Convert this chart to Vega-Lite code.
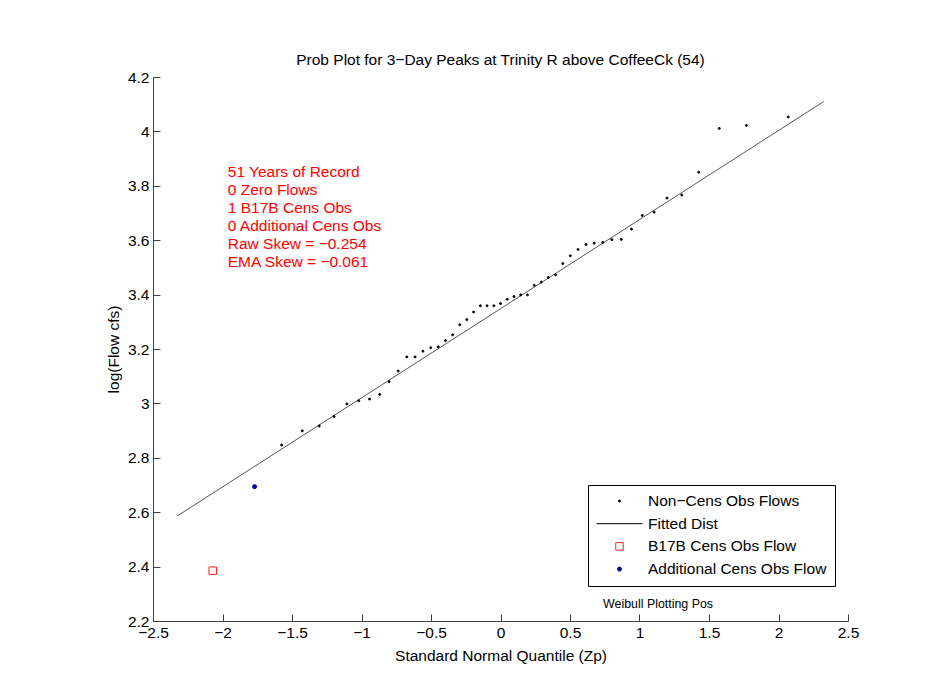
{
  "$schema": "https://vega.github.io/schema/vega-lite/v6.json",
  "width": 695,
  "height": 544,
  "autosize": {"type": "none"},
  "padding": {"left": 153, "top": 77, "right": 104, "bottom": 56},
  "background": "white",
  "title": {"text": "Prob Plot for 3−Day Peaks at Trinity R above CoffeeCk (54)", "font": "Liberation Sans", "fontSize": 15.5, "fontWeight": "normal", "color": "#000", "offset": 2, "anchor": "middle"},
  "config": {
    "view": {"stroke": null},
    "font": "Liberation Sans",
    "axis": {"grid": false, "domainColor": "#404040", "tickColor": "#404040", "tickSize": -7, "labelFont": "Liberation Sans", "labelFontSize": 15.5, "labelColor": "#000", "titleFont": "Liberation Sans", "titleFontSize": 15.5, "titleFontWeight": "normal", "titleColor": "#000", "labelPadding": 11, "labelFlush": false, "labelOverlap": false}
  },
  "datasets": {
    "fit": [{"z": -2.326, "q": 2.586}, {"z": 2.326, "q": 4.110}],
    "obs": [
      {"z": -2.070, "q": 2.385, "series": "B17B Cens Obs Flow"},
      {"z": -1.769, "q": 2.694, "series": "Additional Cens Obs Flow"},
      {"z": -1.574, "q": 2.847, "series": "Non−Cens Obs Flows"},
      {"z": -1.426, "q": 2.899, "series": "Non−Cens Obs Flows"},
      {"z": -1.304, "q": 2.917, "series": "Non−Cens Obs Flows"},
      {"z": -1.198, "q": 2.952, "series": "Non−Cens Obs Flows"},
      {"z": -1.105, "q": 2.998, "series": "Non−Cens Obs Flows"},
      {"z": -1.020, "q": 3.010, "series": "Non−Cens Obs Flows"},
      {"z": -0.942, "q": 3.016, "series": "Non−Cens Obs Flows"},
      {"z": -0.869, "q": 3.033, "series": "Non−Cens Obs Flows"},
      {"z": -0.801, "q": 3.080, "series": "Non−Cens Obs Flows"},
      {"z": -0.736, "q": 3.119, "series": "Non−Cens Obs Flows"},
      {"z": -0.674, "q": 3.171, "series": "Non−Cens Obs Flows"},
      {"z": -0.615, "q": 3.171, "series": "Non−Cens Obs Flows"},
      {"z": -0.558, "q": 3.192, "series": "Non−Cens Obs Flows"},
      {"z": -0.502, "q": 3.205, "series": "Non−Cens Obs Flows"},
      {"z": -0.448, "q": 3.208, "series": "Non−Cens Obs Flows"},
      {"z": -0.396, "q": 3.231, "series": "Non−Cens Obs Flows"},
      {"z": -0.344, "q": 3.252, "series": "Non−Cens Obs Flows"},
      {"z": -0.293, "q": 3.289, "series": "Non−Cens Obs Flows"},
      {"z": -0.243, "q": 3.308, "series": "Non−Cens Obs Flows"},
      {"z": -0.194, "q": 3.336, "series": "Non−Cens Obs Flows"},
      {"z": -0.145, "q": 3.359, "series": "Non−Cens Obs Flows"},
      {"z": -0.097, "q": 3.359, "series": "Non−Cens Obs Flows"},
      {"z": -0.048, "q": 3.359, "series": "Non−Cens Obs Flows"},
      {"z": 0.000, "q": 3.367, "series": "Non−Cens Obs Flows"},
      {"z": 0.048, "q": 3.383, "series": "Non−Cens Obs Flows"},
      {"z": 0.097, "q": 3.393, "series": "Non−Cens Obs Flows"},
      {"z": 0.145, "q": 3.399, "series": "Non−Cens Obs Flows"},
      {"z": 0.194, "q": 3.399, "series": "Non−Cens Obs Flows"},
      {"z": 0.243, "q": 3.434, "series": "Non−Cens Obs Flows"},
      {"z": 0.293, "q": 3.446, "series": "Non−Cens Obs Flows"},
      {"z": 0.344, "q": 3.463, "series": "Non−Cens Obs Flows"},
      {"z": 0.396, "q": 3.473, "series": "Non−Cens Obs Flows"},
      {"z": 0.448, "q": 3.514, "series": "Non−Cens Obs Flows"},
      {"z": 0.502, "q": 3.543, "series": "Non−Cens Obs Flows"},
      {"z": 0.558, "q": 3.566, "series": "Non−Cens Obs Flows"},
      {"z": 0.615, "q": 3.584, "series": "Non−Cens Obs Flows"},
      {"z": 0.674, "q": 3.589, "series": "Non−Cens Obs Flows"},
      {"z": 0.736, "q": 3.592, "series": "Non−Cens Obs Flows"},
      {"z": 0.801, "q": 3.602, "series": "Non−Cens Obs Flows"},
      {"z": 0.869, "q": 3.603, "series": "Non−Cens Obs Flows"},
      {"z": 0.942, "q": 3.641, "series": "Non−Cens Obs Flows"},
      {"z": 1.020, "q": 3.691, "series": "Non−Cens Obs Flows"},
      {"z": 1.105, "q": 3.703, "series": "Non−Cens Obs Flows"},
      {"z": 1.198, "q": 3.755, "series": "Non−Cens Obs Flows"},
      {"z": 1.304, "q": 3.766, "series": "Non−Cens Obs Flows"},
      {"z": 1.426, "q": 3.850, "series": "Non−Cens Obs Flows"},
      {"z": 1.574, "q": 4.011, "series": "Non−Cens Obs Flows"},
      {"z": 1.769, "q": 4.022, "series": "Non−Cens Obs Flows"},
      {"z": 2.070, "q": 4.053, "series": "Non−Cens Obs Flows"}
    ],
    "note": [{"label": "stats"}]
  },
  "layer": [
    {
      "data": {"name": "fit"},
      "mark": {"type": "line", "color": "#555", "strokeWidth": 1},
      "encoding": {
        "x": {"field": "z", "type": "quantitative", "scale": {"domain": [-2.5, 2.5], "nice": false, "zero": false},
          "axis": {"values": [-2.5, -2, -1.5, -1, -0.5, 0, 0.5, 1, 1.5, 2, 2.5], "format": "~g", "title": "Standard Normal Quantile (Zp)", "titlePadding": 8}},
        "y": {"field": "q", "type": "quantitative", "scale": {"domain": [2.2, 4.2], "nice": false, "zero": false},
          "axis": {"values": [2.2, 2.4, 2.6, 2.8, 3, 3.2, 3.4, 3.6, 3.8, 4, 4.2], "format": "~g", "title": "log(Flow cfs)", "titlePadding": 6}}
      }
    },
    {
      "data": {"name": "obs"},
      "mark": {"type": "point", "strokeWidth": 1, "opacity": 1},
      "encoding": {
        "x": {"field": "z", "type": "quantitative"},
        "y": {"field": "q", "type": "quantitative"},
        "shape": {"field": "series", "type": "nominal",
          "scale": {"domain": ["Non−Cens Obs Flows", "Fitted Dist", "B17B Cens Obs Flow", "Additional Cens Obs Flow"], "range": ["circle", "stroke", "square", "circle"]},
          "legend": {"title": null, "orient": "none", "legendX": 435, "legendY": 408, "strokeColor": "#000", "fillColor": "#fff", "padding": 8, "labelFont": "Liberation Sans", "labelFontSize": 15.5, "labelColor": "#000", "labelOffset": 5, "rowPadding": 5.7, "clipHeight": 16, "symbolStrokeWidth": 1, "labelLimit": 400}},
        "stroke": {"field": "series", "type": "nominal",
          "scale": {"domain": ["Non−Cens Obs Flows", "Fitted Dist", "B17B Cens Obs Flow", "Additional Cens Obs Flow"], "range": ["#000000", "#000000", "#ff2020", "#00008b"]}},
        "fill": {"field": "series", "type": "nominal",
          "scale": {"domain": ["Non−Cens Obs Flows", "Fitted Dist", "B17B Cens Obs Flow", "Additional Cens Obs Flow"], "range": ["#000000", "#000000", "#ffffff", "#00008b"]}},
        "size": {"field": "series", "type": "nominal",
          "scale": {"type": "ordinal", "domain": ["Non−Cens Obs Flows", "Fitted Dist", "B17B Cens Obs Flow", "Additional Cens Obs Flow"], "range": [4, 2116, 56, 16]}}
      }
    },
    {
      "data": {"name": "note"},
      "mark": {"type": "text", "align": "left", "baseline": "alphabetic", "font": "Liberation Sans", "fontSize": 15.5, "lineHeight": 18, "color": "#ff0000",
        "text": ["51 Years of Record", "0 Zero Flows", "1 B17B Cens Obs", "0 Additional Cens Obs", "Raw Skew = −0.254", "EMA Skew = −0.061"]},
      "encoding": {"x": {"datum": -1.962, "type": "quantitative"}, "y": {"datum": 3.831, "type": "quantitative"}}
    },
    {
      "data": {"name": "note"},
      "mark": {"type": "text", "align": "left", "baseline": "alphabetic", "font": "Liberation Sans", "fontSize": 12.4, "color": "#000", "text": "Weibull Plotting Pos"},
      "encoding": {"x": {"datum": 0.738, "type": "quantitative"}, "y": {"datum": 2.248, "type": "quantitative"}}
    }
  ]
}
